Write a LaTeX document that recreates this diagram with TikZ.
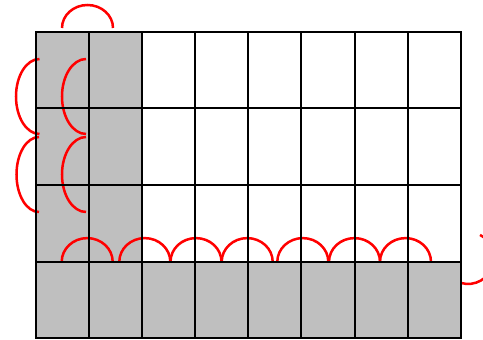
\documentclass[tikz,border=0pt]{standalone}
\begin{document}
\begin{tikzpicture}[x=1pt,y=1pt,
  gridline/.style={line width=2pt,black,line cap=rect},
  loopline/.style={line width=2.5pt,red}]
\useasboundingbox (0,0) rectangle (483,340);
\def\cw{53.0875}
\def\ch{76.7}
% gray cells
\fill[lightgray] (36,1.5) rectangle (460.7,78.2);
\fill[lightgray] (36,78.2) rectangle ({36+2*\cw},308.3);
% red arcs
\draw[loopline] (62,312) arc[start angle=180,end angle=0,x radius=25.5,y radius=23];
\draw[loopline] (39.5,281) arc[start angle=90,end angle=270,x radius=23.5,y radius=37.5];
\draw[loopline] (39,203) arc[start angle=90,end angle=270,x radius=22.5,y radius=37.5];
\draw[loopline] (86,281) arc[start angle=90,end angle=270,x radius=24,y radius=37.5];
\draw[loopline] (86,203) arc[start angle=90,end angle=270,x radius=24,y radius=37.5];
\foreach \s in {61.7,119.3,170.5,221.7,277.3,329,380}
  \draw[loopline] (\s,78.2) arc[start angle=180,end angle=0,x radius=25.5,y radius=23.7];
\draw[loopline] (461,57) arc[start angle=-105.6,end angle=62.4,radius=26];
% grid
\foreach \i in {0,...,8}
  \draw[gridline] ({36+\i*\cw},1.5) -- ({36+\i*\cw},308.3);
\foreach \j in {0,...,4}
  \draw[gridline] (36,{1.5+\j*\ch}) -- (460.7,{1.5+\j*\ch});
\end{tikzpicture}
\end{document}
